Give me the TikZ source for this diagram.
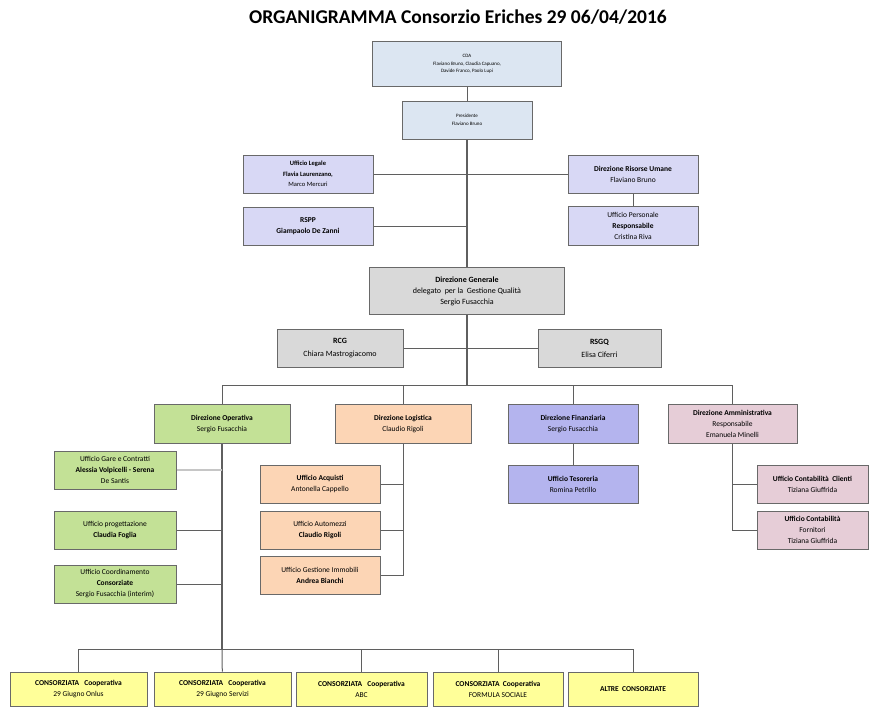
\documentclass[tikz,border=0pt]{standalone}
\usepackage{fontspec}
\setmainfont{Carlito}
\usetikzlibrary{positioning}
\definecolor{cdablue}{RGB}{220,230,242}
\definecolor{lavender}{RGB}{216,216,245}
\definecolor{grayfill}{RGB}{217,217,217}
\definecolor{greenfill}{RGB}{195,225,150}
\definecolor{orangefill}{RGB}{252,213,181}
\definecolor{purplefill}{RGB}{180,180,238}
\definecolor{pinkfill}{RGB}{230,205,215}
\definecolor{yellowfill}{RGB}{255,255,153}
\definecolor{boxgray}{RGB}{105,105,105}
\definecolor{linegray}{RGB}{95,95,95}
\tikzset{
  box/.style={draw=boxgray, line width=1pt, align=center, inner sep=1pt,
    minimum width=130pt, minimum height=38pt, font=\fontsize{7.5}{11}\selectfont},
  tinybox/.style={box, font=\fontsize{5}{7.5}\selectfont},
  link/.style={draw=linegray, line width=1pt},
}
\begin{document}
\begin{tikzpicture}[x=1pt, y=-1pt]
        \useasboundingbox (0,0) rectangle (869,707);
        % nodes %
        \node[font=\fontsize{19.5}{22}\selectfont\bfseries] (title) at (458,17) {ORGANIGRAMMA Consorzio Eriches 29 06/04/2016};
        \node[tinybox, fill=cdablue, minimum width=189pt, minimum height=45pt] (cda) at (467,64) {CDA\\Flaviano Bruno, Claudia Capuano,\\Davide Franco, Paolo Lupi};
        \node[tinybox, fill=cdablue] (pres) at (467,120) {Presidente\\Flaviano Bruno};
        \node[box, fill=lavender, font=\fontsize{6.5}{10.5}\selectfont] (legale) at (308,174) {\textbf{Ufficio Legale}\\\textbf{Flavia Laurenzano,}\\Marco Mercuri};
        \node[box, fill=lavender] (rspp) at (308,226) {\textbf{RSPP}\\\textbf{Giampaolo De Zanni}};
        \node[box, fill=lavender] (dru) at (633,174) {\textbf{Direzione Risorse Umane}\\Flaviano Bruno};
        \node[box, fill=lavender, minimum height=39pt] (pers) at (633,226) {Ufficio Personale\\\textbf{Responsabile}\\Cristina Riva};
        \node[box, fill=grayfill, minimum width=195pt, minimum height=47pt, font=\fontsize{8}{11}\selectfont] (dg) at (467,291) {\textbf{Direzione Generale}\\delegato\ \ per la\ \ Gestione Qualità\\Sergio Fusacchia};
        \node[box, fill=grayfill, minimum width=126pt, font=\fontsize{8}{13}\selectfont] (rcg) at (340,348) {\textbf{RCG}\\Chiara Mastrogiacomo};
        \node[box, fill=grayfill, minimum width=123pt, font=\fontsize{8}{13}\selectfont] (rsgq) at (599.5,348) {\textbf{RSGQ}\\Elisa Ciferri};
        \node[box, fill=greenfill, minimum width=136pt, minimum height=39pt] (dop) at (222,424) {\textbf{Direzione Operativa}\\Sergio Fusacchia};
        \node[box, fill=orangefill, minimum width=136pt, minimum height=39pt] (dlog) at (403,424) {\textbf{Direzione Logistica}\\Claudio Rigoli};
        \node[box, fill=purplefill, minimum height=39pt] (dfin) at (573,424) {\textbf{Direzione Finanziaria}\\Sergio Fusacchia};
        \node[box, fill=pinkfill, minimum width=129pt, minimum height=39pt] (damm) at (732.5,424) {\textbf{Direzione Amministrativa}\\Responsabile\\Emanuela Minelli};
        \node[box, fill=greenfill, minimum width=122pt] (gare) at (115,470) {Ufficio Gare e Contratti\\\textbf{Alessia Volpicelli - Serena}\\De Santis};
        \node[box, fill=greenfill, minimum width=122pt] (prog) at (115,530) {Ufficio progettazione\\\textbf{Claudia Foglia}};
        \node[box, fill=greenfill, minimum width=122pt] (coord) at (115,584) {Ufficio Coordinamento\\\textbf{Consorziate}\\Sergio Fusacchia (interim)};
        \node[box, fill=orangefill, minimum width=120pt] (acq) at (320,484) {\textbf{Ufficio Acquisti}\\Antonella Cappello};
        \node[box, fill=orangefill, minimum width=120pt] (auto) at (320,530) {Ufficio Automezzi\\\textbf{Claudio Rigoli}};
        \node[box, fill=orangefill, minimum width=120pt] (immo) at (320,575) {Ufficio Gestione Immobili\\\textbf{Andrea Bianchi}};
        \node[box, fill=purplefill] (tes) at (573,484) {\textbf{Ufficio Tesoreria}\\Romina Petrillo};
        \node[box, fill=pinkfill, minimum width=111pt] (ccli) at (812.5,484) {\textbf{Ufficio Contabilità\ \ Clienti}\\Tiziana Giuffrida};
        \node[box, fill=pinkfill, minimum width=111pt] (cfor) at (812.5,530) {\textbf{Ufficio Contabilità}\\Fornitori\\Tiziana Giuffrida};
        \node[box, fill=yellowfill, minimum width=137pt, minimum height=34pt] (c1) at (78.5,689) {\textbf{CONSORZIATA\ \ \ Cooperativa}\\29 Giugno Onlus};
        \node[box, fill=yellowfill, minimum width=137pt, minimum height=34pt] (c2) at (222.5,689) {\textbf{CONSORZIATA\ \ \ Cooperativa}\\29 Giugno Servizi};
        \node[box, fill=yellowfill, minimum width=131pt, minimum height=34pt] (c3) at (361.5,689) {\textbf{CONSORZIATA\ \ \ Cooperativa}\\ABC};
        \node[box, fill=yellowfill, minimum height=34pt] (c4) at (498,689) {\textbf{CONSORZIATA\ \ Cooperativa}\\FORMULA SOCIALE};
        \node[box, fill=yellowfill, minimum height=34pt] (c5) at (633,689) {\textbf{ALTRE\ \ CONSORZIATE}};
        \coordinate (bus) at (467,385);
        \coordinate (busl) at (222,385);
        \coordinate (bot) at (222,649);
        % edges %
        \draw[link] (cda) -- (pres);
        \draw[link, line width=1.4pt] (pres) -- (dg);
        \draw[link] (legale) -- (dru);
        \draw[link] (rspp) -- (rspp -| pres);
        \draw[link] (dru) -- (pers);
        \draw[link, line width=1.4pt] (dg) -- (bus);
        \draw[link] (rcg) -- (rsgq);
        \draw[link] (dop) -- (busl) -| (damm);
        \draw[link] (dlog) -- (dlog |- busl);
        \draw[link] (dfin) -- (dfin |- busl);
        % operativa %
        \draw[link, line width=1.4pt] (dop) -- (bot);
        \draw[link, draw=gray!45, line width=2.2pt] (gare) -- (gare -| dop);
        \draw[link] (prog) -- (prog -| dop);
        \draw[link] (coord) -- (coord -| dop);
        % logistica %
        \draw[link] (dlog) |- (immo);
        \draw[link] (acq) -- (acq -| dlog);
        \draw[link] (auto) -- (auto -| dlog);
        % finanziaria e amministrativa %
        \draw[link] (dfin) -- (tes);
        \draw[link] (damm) |- (cfor);
        \draw[link] (ccli) -- (ccli -| damm);
        % consorziate %
        \draw[link] (c1) |- (bot) -| (c5);
        \draw[link] (c2) -- (bot);
        \draw[link] (c3) -- (c3 |- bot);
        \draw[link] (c4) -- (c4 |- bot);
      \end{tikzpicture}
\end{document}
